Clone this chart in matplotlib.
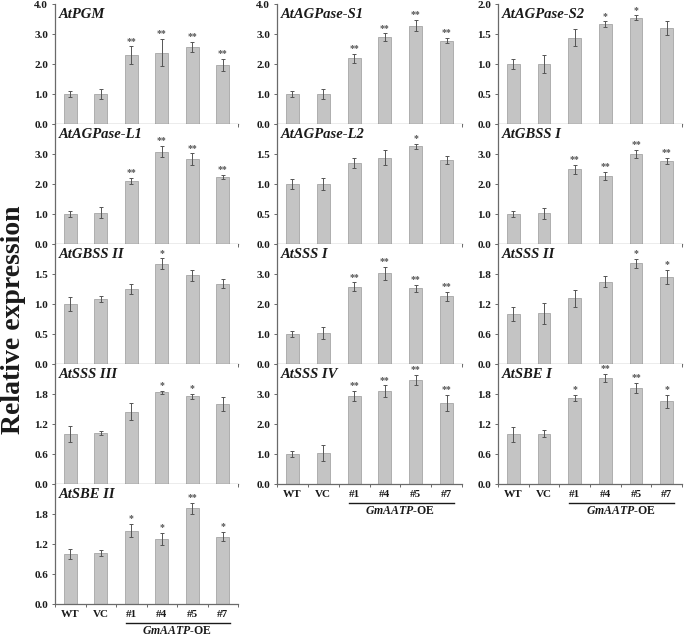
import matplotlib
matplotlib.use("Agg")
import matplotlib.pyplot as plt
import matplotlib.transforms as mtransforms

plt.rcParams["font.family"] = ["Liberation Serif", "DejaVu Serif"]
plt.rcParams["mathtext.fontset"] = "custom"
plt.rcParams["mathtext.it"] = "Liberation Serif:italic:bold"
plt.rcParams["mathtext.rm"] = "Liberation Serif:bold"

CATS = ["WT", "VC", "#1", "#4", "#5", "#7"]

GENES = ["AtPGM", "AtAGPase-S1", "AtAGPase-S2",
         "AtAGPase-L1", "AtAGPase-L2", "AtGBSS I",
         "AtGBSS II", "AtSSS I", "AtSSS II",
         "AtSSS III", "AtSSS IV", "AtSBE I",
         "AtSBE II"]

YMAX = [4.0, 4.0, 2.0,
        4.0, 2.0, 4.0,
        2.0, 4.0, 2.4,
        2.4, 4.0, 2.4,
        2.4]

MEANS = [
    [1.00, 1.00, 2.29, 2.38, 2.58, 1.96],
    [1.00, 1.00, 2.19, 2.89, 3.28, 2.78],
    [1.00, 1.00, 1.44, 1.66, 1.77, 1.60],
    [1.00, 1.04, 2.10, 3.08, 2.82, 2.24],
    [1.00, 1.00, 1.35, 1.44, 1.63, 1.40],
    [1.00, 1.02, 2.49, 2.27, 3.00, 2.78],
    [1.00, 1.09, 1.25, 1.67, 1.48, 1.34],
    [1.00, 1.02, 2.58, 3.03, 2.52, 2.26],
    [1.01, 1.02, 1.32, 1.65, 2.02, 1.75],
    [1.01, 1.02, 1.45, 1.84, 1.76, 1.61],
    [1.00, 1.03, 2.94, 3.10, 3.46, 2.70],
    [1.00, 1.01, 1.72, 2.13, 1.93, 1.66],
    [1.00, 1.03, 1.47, 1.31, 1.92, 1.35],
]

ERRS = [
    [0.10, 0.18, 0.30, 0.45, 0.17, 0.20],
    [0.10, 0.17, 0.15, 0.13, 0.18, 0.09],
    [0.09, 0.15, 0.14, 0.05, 0.04, 0.11],
    [0.11, 0.18, 0.11, 0.18, 0.20, 0.06],
    [0.09, 0.10, 0.09, 0.12, 0.04, 0.06],
    [0.10, 0.18, 0.14, 0.14, 0.14, 0.10],
    [0.11, 0.05, 0.09, 0.09, 0.09, 0.08],
    [0.09, 0.20, 0.14, 0.22, 0.12, 0.15],
    [0.14, 0.21, 0.17, 0.11, 0.09, 0.14],
    [0.16, 0.04, 0.17, 0.03, 0.05, 0.14],
    [0.09, 0.27, 0.16, 0.19, 0.17, 0.26],
    [0.15, 0.07, 0.06, 0.08, 0.10, 0.13],
    [0.10, 0.06, 0.13, 0.12, 0.11, 0.09],
]

SIGS = [
    ["", "", "**", "**", "**", "**"],
    ["", "", "**", "**", "**", "**"],
    ["", "", "", "*", "*", ""],
    ["", "", "**", "**", "**", "**"],
    ["", "", "", "", "*", ""],
    ["", "", "**", "**", "**", "**"],
    ["", "", "", "*", "", ""],
    ["", "", "**", "**", "**", "**"],
    ["", "", "", "", "*", "*"],
    ["", "", "", "*", "*", ""],
    ["", "", "**", "**", "**", "**"],
    ["", "", "*", "**", "**", "*"],
    ["", "", "*", "*", "**", "*"],
]

W, H = 685, 637
COL_X = [(55, 238), (277, 462), (498, 682)]
ROW_TOP = 4
ROW_H = 120

BAR_C = "#c4c4c4"
EDGE_C = "#a6a6a6"
AX_C = "#6a6a6a"
TXT_C = "#1a1a1a"


def panel_axes(fig, row, col):
    x0, x1 = COL_X[col]
    top = ROW_TOP + row * ROW_H
    return fig.add_axes([x0 / W, 1 - (top + ROW_H) / H, (x1 - x0) / W, ROW_H / H])


def main():
    fig = plt.figure(figsize=(W / 100, H / 100), dpi=100)
    fig.patch.set_facecolor("white")

    n_rows = [5, 4, 4]
    slots = []
    for row in range(5):
        for col in range(3):
            if row < n_rows[col]:
                slots.append((row, col))

    for i, (row, col) in enumerate(slots):
        ax = panel_axes(fig, row, col)
        xs = list(range(len(CATS)))
        ax.bar(xs, MEANS[i], width=0.42, color=BAR_C, edgecolor=EDGE_C,
               linewidth=0.6, zorder=2)
        ax.errorbar(xs, MEANS[i], yerr=ERRS[i], fmt="none", ecolor="#555555",
                    elinewidth=0.7, capsize=1.2, capthick=0.7, zorder=3)
        for x, m, e, s in zip(xs, MEANS[i], ERRS[i], SIGS[i]):
            if s:
                ax.annotate(s, (x, m + e), xytext=(0, 0.5),
                            textcoords="offset points", ha="center",
                            va="bottom", fontsize=7, color="#555555",
                            fontweight="bold")

        ymax = YMAX[i]
        step = ymax / 4
        ax.set_ylim(0, ymax)
        ax.set_xlim(-0.5, len(CATS) - 0.5)
        ticks = [step * k for k in range(5)]
        ax.set_yticks(ticks)
        labels = [f"{t:.1f}" for t in ticks]
        if row > 0:
            labels[-1] = ""
        ax.set_yticklabels(labels, fontsize=8, fontweight="bold", color=TXT_C)
        ax.tick_params(axis="y", direction="out", length=2, width=0.7,
                       color=AX_C, pad=3)

        for sp in ["top", "right"]:
            ax.spines[sp].set_visible(False)
        for sp in ["left", "bottom"]:
            ax.spines[sp].set_color(AX_C)
            ax.spines[sp].set_linewidth(0.9)

        ax.set_xticks([k + 0.5 for k in range(-1, len(CATS))], minor=True)
        ax.tick_params(axis="x", which="minor", direction="out", length=2,
                       width=0.7, color=AX_C)
        ax.set_xticks(xs)
        bottom = row == n_rows[col] - 1
        if bottom:
            ax.set_xticklabels(CATS, fontsize=8, fontweight="bold", color=TXT_C)
            ax.tick_params(axis="x", which="major", length=0, pad=4)
            trans = mtransforms.blended_transform_factory(ax.transData, ax.transAxes)
            ax.plot([1.82, 5.25], [-0.155, -0.155], color=TXT_C, lw=1.0,
                    transform=trans, clip_on=False)
            ax.text(3.5, -0.225, "$GmAATP$-OE", transform=trans, ha="center",
                    va="center", fontsize=8.5, fontweight="bold", color=TXT_C)
        else:
            ax.set_xticklabels([])
            ax.tick_params(axis="x", which="major", length=0)

        ax.text(0.02, 0.97, GENES[i], transform=ax.transAxes, ha="left",
                va="top", fontsize=10.5, fontweight="bold", fontstyle="italic",
                color=TXT_C)

    fig.text(14 / W, 1 - 320 / H, "Relative expression", rotation=90,
             ha="center", va="center", fontsize=20, fontweight="bold",
             color=TXT_C)

    fig.savefig("out.png", dpi=100, facecolor="white")
    plt.close(fig)


if __name__ == "__main__":
    main()
